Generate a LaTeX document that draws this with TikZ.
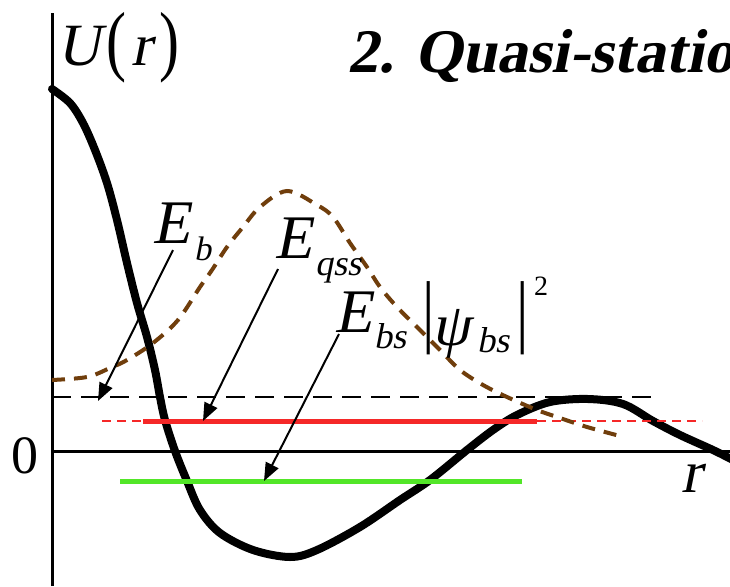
\documentclass[tikz,border=0pt]{standalone}
\usepackage{fontspec}
\setmainfont{Liberation Serif}
\newfontfamily\itser{Liberation Serif}[FakeSlant=0.2]
\newfontfamily\bfitser{Liberation Serif Bold}[FakeSlant=0.2]
\usetikzlibrary{arrows.meta}
\definecolor{wfbrown}{RGB}{112,62,12}
\definecolor{lvred}{RGB}{245,40,40}
\definecolor{lvgreen}{RGB}{82,230,40}
\newcommand\setfs[1]{\fontsize{#1}{#1}\selectfont}
\begin{document}
\begin{tikzpicture}[x=1pt,y=-1pt,
  lbl/.style={inner sep=0pt,outer sep=0pt,anchor=base west},
  big/.style={lbl,font=\itser\setfs{62}},
  sub/.style={lbl,font=\itser\setfs{36}},
  axisline/.style={line width=3pt,black},
  pot/.style={line width=8pt,black,line join=round,line cap=round},
  wf/.style={line width=4pt,wfbrown,dash pattern=on 13pt off 9pt},
  bdash/.style={line width=2.6pt,black,dash pattern=on 19pt off 10pt},
  rdash/.style={line width=2.4pt,lvred,dash pattern=on 9pt off 6pt},
  rsolid/.style={line width=5pt,lvred},
  gsolid/.style={line width=5pt,lvgreen},
  arr/.style={line width=2pt,-{Triangle[length=18pt,width=14pt]}}
]
\useasboundingbox (0,0) rectangle (730,586);
% axes
\coordinate (ytop) at (52,13);
\coordinate (ybot) at (52,586);
\coordinate (xl) at (52,451);
\coordinate (xr) at (730,451);
\draw[axisline] (ybot) -- (ytop);
\draw[axisline] (xl) -- (xr);
% potential
\draw[pot] plot[smooth,tension=0.55] coordinates {
 (52,89) (70,103) (83,123) (95,150) (107,183) (117,220) (127,263) (137,303)
 (147,337) (155,370) (160,397) (165,420) (175,451) (187,481) (200,510)
 (220,533) (253,550) (290,557) (317,550) (360,527) (400,500) (430,480)
 (467,450) (493,430) (517,415) (550,402) (588,399) (623,404) (653,421)
 (680,435) (713,450) (733,460)};
% levels
\coordinate (bdL) at (52,397);  \coordinate (bdR) at (657,397);
\coordinate (rdL) at (102,421); \coordinate (rdR) at (702,421);
\coordinate (rsL) at (143,421); \coordinate (rsR) at (537,421);
\coordinate (gsL) at (120,481); \coordinate (gsR) at (522,481);
\draw[bdash] (bdL) -- (bdR);
\draw[rdash] (rdL) -- (rdR);
\draw[rsolid] (rsL) -- (rsR);
\draw[gsolid] (gsL) -- (gsR);
% wavefunction
\draw[wf] plot[smooth,tension=0.55] coordinates {
 (52,380) (87,377) (110,368) (127,360) (153,343) (178,320) (200,287)
 (212,270) (227,247) (243,227) (260,207) (287,191) (317,205) (333,217)
 (350,243) (367,267) (380,287) (397,307) (420,330) (440,350) (460,370)
 (483,385) (507,397) (537,410) (560,418) (587,427) (620,436)};
% labels
\node[lbl,font=\itser\setfs{60}] (U) at (57,65) {U};
\node[inner sep=0pt,font=\setfs{60}] (pl) at (116,48) {\scalebox{1}[1.3]{(}};
\node[lbl,font=\itser\setfs{60}] (rr) at (131,65) {r};
\node[inner sep=0pt,font=\setfs{60}] (pr) at (169,48) {\scalebox{1}[1.3]{)}};
\node[lbl,font=\bfitser\setfs{62}] (title) at (347,72) {2. Quasi-statio};
\node[lbl,font=\setfs{54}] (zero) at (11,473) {0};
\node[lbl,font=\itser\setfs{60}] (rax) at (681,492) {r};
\node[big] (Eb) at (152,243) {E};
\node[lbl,font=\itser\setfs{34}] (Ebsub) at (194,260) {b};
\node[big] (Eq) at (274,258) {E};
\node[sub] (Eqsub) at (315,275) {qss};
\node[big] (Ebs) at (334,332) {E};
\node[sub] (Ebssub) at (374,348) {bs};
\node[inner sep=0pt,font=\setfs{62}] (barL) at (429,318) {\scalebox{1}[1.3]{|}};
\node[lbl,font=\itser\setfs{60}] (psi) at (432,345) {ψ};
\node[sub] (psisub) at (477,352) {bs};
\node[inner sep=0pt,font=\setfs{62}] (barR) at (523,318) {\scalebox{1}[1.3]{|}};
\node[lbl,font=\setfs{28}] (sq) at (534,295) {2};
% arrows
\coordinate (tEb) at (173,250);  \coordinate (hEb) at (98,401);
\coordinate (tEq) at (278,269);  \coordinate (hEq) at (203,421);
\coordinate (tEbs) at (339,334); \coordinate (hEbs) at (264,481);
\draw[arr] (tEb) -- (hEb);
\draw[arr] (tEq) -- (hEq);
\draw[arr] (tEbs) -- (hEbs);
\end{tikzpicture}
\end{document}
